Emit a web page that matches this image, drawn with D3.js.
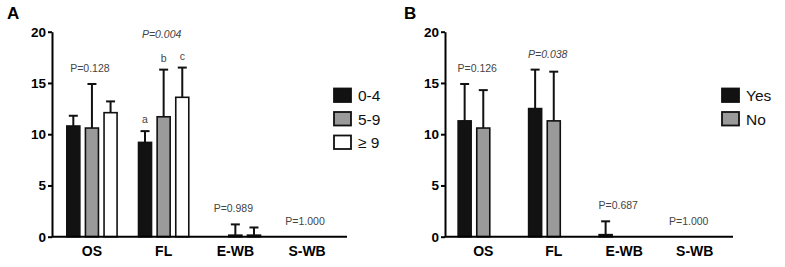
<!DOCTYPE html>
<html>
<head>
<meta charset="utf-8">
<script src="https://cdn.jsdelivr.net/npm/d3@7"></script>
<style>
  body { margin: 0; background: #fff; }
  svg { font-family: "Liberation Sans", Arial, sans-serif; }
  .axis path, .axis line { stroke: #000; stroke-width: 2; }
  .axis text { font-size: 13.5px; font-weight: bold; fill: #000; }
  .catLabel { font-size: 14px; font-weight: bold; }
  .pval { font-size: 10.5px; fill: #444; }
  .legendText { font-size: 15.5px; fill: #111; }
  .panelLabel { font-size: 17px; font-weight: bold; }
</style>
</head>
<body>
<script>
// categories and tick labels
const categories = ["OS", "FL", "E-WB", "S-WB"];
const yTicks = [0, 5, 10, 15, 20];

// panel A: age groups
const ageGroups = ["0-4", "5-9", "\u2265 9"];
const age04Mean = [10.8, 9.2, 0, 0];
const age04Sd = [1.0, 1.1, 0, 0];
const age59Mean = [10.6, 11.7, 0.15, 0];
const age59Sd = [4.3, 4.6, 1.05, 0];
const age9Mean = [12.1, 13.6, 0.15, 0];
const age9Sd = [1.1, 2.9, 0.75, 0];
const pValuesA = ["P=0.128", "P=0.004", "P=0.989", "P=1.000"];
const letterLabelsA = [null, ["a", "b", "c"], null, null];

// panel B: yes / no
const ynGroups = ["Yes", "No"];
const yesMean = [11.3, 12.5, 0.2, 0];
const yesSd = [3.6, 3.8, 1.3, 0];
const noMean = [10.6, 11.3, 0, 0];
const noSd = [3.7, 4.8, 0, 0];
const pValuesB = ["P=0.126", "P=0.038", "P=0.687", "P=1.000"];

const width = 785, height = 267;
const fills = ["#121212", "#9a9a9a", "#ffffff"];

const svg = d3.select("body").append("svg")
    .attr("width", width)
    .attr("height", height);

const yScale = d3.scaleLinear()
    .domain([0, 20])
    .range([236.7, 31.7]);

function drawPanel(cfg) {
    const g = svg.append("g");

    const xScale = d3.scaleBand()
        .domain(categories)
        .range([cfg.left, cfg.right])
        .paddingInner(0)
        .paddingOuter(cfg.outer);

    // three slots per category (panel B keeps the third slot empty)
    const slot = d3.scaleBand()
        .domain([0, 1, 2])
        .range([-27.75, 27.75])
        .paddingInner(0.22)
        .paddingOuter(0.1);

    const center = function (c) { return xScale(c) + xScale.bandwidth() / 2; };

    // bars
    cfg.series.forEach(function (s, si) {
        categories.forEach(function (c, ci) {
            const v = s.mean[ci], sd = s.sd[ci];
            const x = center(c) + slot(si);
            if (v > 0) {
                g.append("rect")
                    .attr("x", x + 0.75)
                    .attr("y", yScale(v))
                    .attr("width", slot.bandwidth() - 1.5)
                    .attr("height", yScale(0) - yScale(v))
                    .attr("fill", fills[si])
                    .attr("stroke", "#111")
                    .attr("stroke-width", 1.6);
            }
            if (sd > 0) {
                const xm = x + slot.bandwidth() / 2;
                g.append("line")
                    .attr("x1", xm).attr("x2", xm)
                    .attr("y1", yScale(v)).attr("y2", yScale(v + sd))
                    .attr("stroke", "#111").attr("stroke-width", 2);
                g.append("line")
                    .attr("x1", xm - 4.5).attr("x2", xm + 4.5)
                    .attr("y1", yScale(v + sd)).attr("y2", yScale(v + sd))
                    .attr("stroke", "#111").attr("stroke-width", 2);
                if (cfg.letters && cfg.letters[ci]) {
                    g.append("text")
                        .attr("class", "pval")
                        .attr("x", xm)
                        .attr("y", yScale(v + sd) - 8)
                        .attr("text-anchor", "middle")
                        .text(cfg.letters[ci][si]);
                }
            }
        });
    });

    // p values
    categories.forEach(function (c, ci) {
        let top = 0;
        cfg.series.forEach(function (s) { top = Math.max(top, s.mean[ci] + s.sd[ci]); });
        const off = (cfg.letters && cfg.letters[ci]) ? 30 : 12;
        g.append("text")
            .attr("class", "pval")
            .attr("x", center(c) + cfg.pShift)
            .attr("y", yScale(top) - off)
            .attr("text-anchor", "middle")
            .style("font-style", cfg.italic[ci] ? "italic" : "normal")
            .text(cfg.pValues[ci]);
    });

    // y axis
    g.append("g")
        .attr("class", "axis")
        .attr("transform", "translate(" + cfg.left + ",0)")
        .call(d3.axisLeft(yScale).tickValues(yTicks).tickSize(4).tickSizeOuter(0).tickPadding(2));

    // x axis line
    g.append("line")
        .attr("x1", cfg.left).attr("x2", cfg.right)
        .attr("y1", yScale(0)).attr("y2", yScale(0))
        .attr("stroke", "#000").attr("stroke-width", 2);

    g.selectAll(".catLabel")
        .data(categories)
        .enter().append("text")
        .attr("class", "catLabel")
        .attr("x", center)
        .attr("y", 256)
        .attr("text-anchor", "middle")
        .text(function (d) { return d; });

    // legend
    cfg.series.forEach(function (s, si) {
        const ly = 88.5 + si * 23.5;
        g.append("rect")
            .attr("x", cfg.legendX)
            .attr("y", ly)
            .attr("width", 17)
            .attr("height", 13.5)
            .attr("fill", fills[si])
            .attr("stroke", "#111")
            .attr("stroke-width", 1.8);
        g.append("text")
            .attr("class", "legendText")
            .attr("x", cfg.legendX + 24)
            .attr("y", ly + 12.5)
            .text(s.name);
    });

    g.append("text")
        .attr("class", "panelLabel")
        .attr("x", cfg.labelX)
        .attr("y", 19)
        .text(cfg.label);
}

drawPanel({
    label: "A", labelX: 7,
    left: 52, right: 347, outer: 0.057,
    series: [
        { name: ageGroups[0], mean: age04Mean, sd: age04Sd },
        { name: ageGroups[1], mean: age59Mean, sd: age59Sd },
        { name: ageGroups[2], mean: age9Mean, sd: age9Sd }
    ],
    pValues: pValuesA,
    italic: [false, true, false, false],
    letters: letterLabelsA,
    pShift: -2,
    legendX: 334
});

drawPanel({
    label: "B", labelX: 404,
    left: 445, right: 733, outer: 0.043,
    series: [
        { name: ynGroups[0], mean: yesMean, sd: yesSd },
        { name: ynGroups[1], mean: noMean, sd: noSd }
    ],
    pValues: pValuesB,
    italic: [false, true, false, false],
    letters: null,
    pShift: -6,
    legendX: 722
});
</script>
</body>
</html>
